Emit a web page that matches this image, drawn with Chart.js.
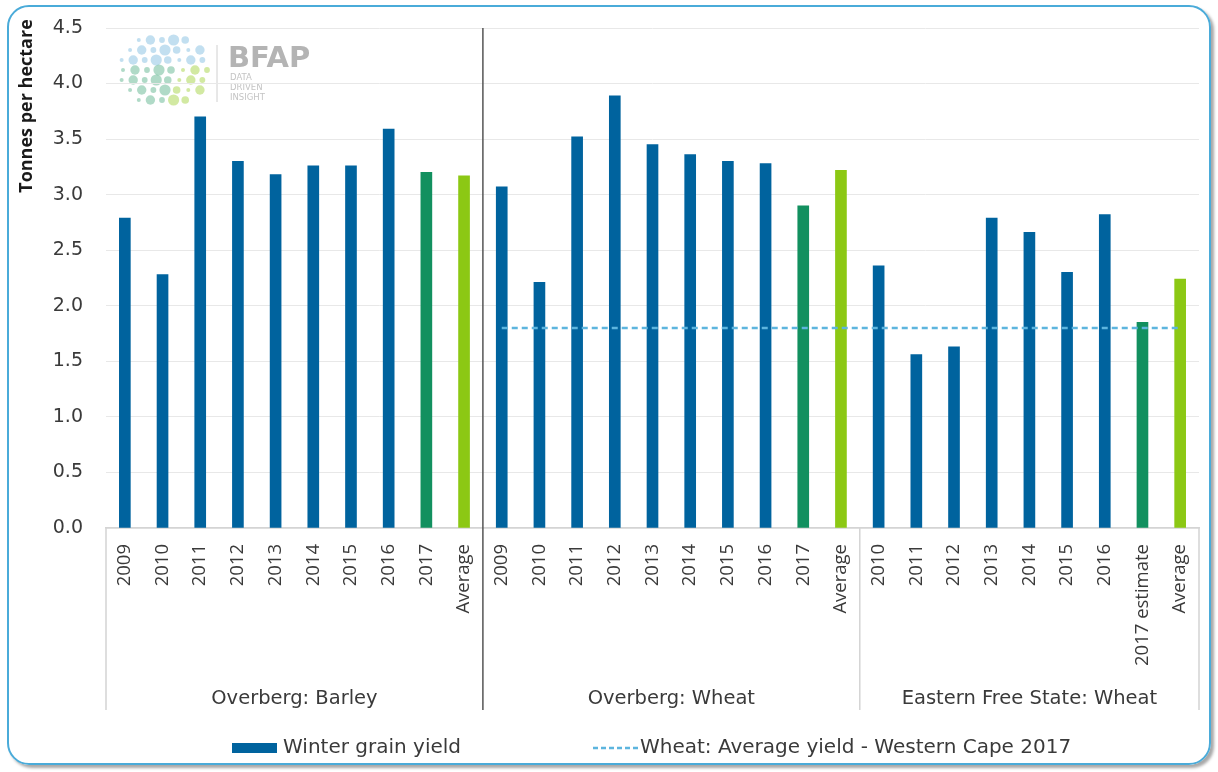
<!DOCTYPE html>
<html>
<head>
<meta charset="utf-8">
<script src="https://cdn.jsdelivr.net/npm/chart.js@4.4.1/dist/chart.umd.min.js"></script>
<style>
    body { margin: 0; background: #ffffff; }
    #wrap { position: relative; width: 1218px; height: 772px; overflow: hidden; }
    #frame {
        position: absolute; left: 7px; top: 5px; width: 1200px; height: 756px;
        border: 2.5px solid #4aabd9; border-radius: 22px;
        box-shadow: 3px 3px 3px #a8a8a8;
    }
    #chart { position: absolute; left: 0; top: 0; }
</style>
</head>
<body>
<div id="wrap">
    <div id="frame"></div>
    <canvas id="chart" width="1218" height="772"></canvas>
</div>
<script>
// =====================================
// DATA
// =====================================
const groupNames = ["Overberg: Barley", "Overberg: Wheat", "Eastern Free State: Wheat"];

const barleyLabels = ["2009", "2010", "2011", "2012", "2013", "2014", "2015", "2016", "2017", "Average"];
const barleyYield  = [2.79, 2.28, 3.70, 3.30, 3.18, 3.26, 3.26, 3.59, 3.20, 3.17];

const wheatLabels = ["2009", "2010", "2011", "2012", "2013", "2014", "2015", "2016", "2017", "Average"];
const wheatYield  = [3.07, 2.21, 3.52, 3.89, 3.45, 3.36, 3.30, 3.28, 2.90, 3.22];

const efsLabels = ["2010", "2011", "2012", "2013", "2014", "2015", "2016", "2017 estimate", "Average"];
const efsYield  = [2.36, 1.56, 1.63, 2.79, 2.66, 2.30, 2.82, 1.85, 2.24];

// Western Cape 2017 average wheat yield (dashed line over the two wheat groups)
const westernCapeAvg = 1.80;

const yTicks = [0, 0.5, 1.0, 1.5, 2.0, 2.5, 3.0, 3.5, 4.0, 4.5];

// =====================================
// BUILD CHART INPUT
// =====================================
const labels = [...barleyLabels, ...wheatLabels, ...efsLabels];
const yields = [...barleyYield, ...wheatYield, ...efsYield];
const groupSizes = [barleyLabels.length, wheatLabels.length, efsLabels.length];

const lineData = labels.map((l, i) => i < barleyLabels.length ? null : westernCapeAvg);

const BLUE = "#00639e";
const DARK_GREEN = "#12905f";
const LIGHT_GREEN = "#8cc814";

const barColors = labels.map(l => {
    if (l === "Average") return LIGHT_GREEN;
    if (l.indexOf("2017") === 0) return DARK_GREEN;
    return BLUE;
});

const WIDE = "'DejaVu Sans', sans-serif";      // horizontal texts (stretched look)
const NARROW = "'Open Sans', sans-serif";      // rotated texts
const TEXT = "#3a3a3a";

// =====================================
// EXTRAS: logo, axis title, group labels, separators, legend
// =====================================
const extras = {
    id: "extras",
    beforeDraw(chart) {
        const c = chart.ctx;
        c.save();
        // logo dots, roughly a ball: blue on top, green below
        for (let row = 0; row < 7; row++) {
            const y = 40 + row * 10;
            const half = Math.sqrt(1 - Math.pow((row - 3) / 3.6, 2)) * 42;
            const n = Math.round(half / 6);
            for (let k = 0; k <= n; k++) {
                const x = 162 - half + (2 * half) * k / n + (row % 2) * 3;
                const r = 2 + ((k * 3 + row * 5) % 5) * 0.9;
                c.beginPath();
                c.arc(x, y, r, 0, Math.PI * 2);
                if (row < 3) c.fillStyle = "rgba(120,185,222,0.45)";
                else c.fillStyle = k > n * 0.6 ? "rgba(165,212,70,0.5)" : "rgba(80,172,130,0.45)";
                c.fill();
            }
        }
        c.strokeStyle = "#d0d0d0";
        c.lineWidth = 1;
        c.beginPath(); c.moveTo(217, 45); c.lineTo(217, 102); c.stroke();
        c.fillStyle = "#b4b4b4";
        c.font = "bold 29px " + WIDE;
        c.textBaseline = "alphabetic";
        c.fillText("BFAP", 228, 67);
        c.font = "8.5px " + WIDE;
        c.fillStyle = "#c4c4c4";
        c.fillText("DATA", 230, 80);
        c.fillText("DRIVEN", 230, 90);
        c.fillText("INSIGHT", 230, 100);
        c.restore();
    },
    afterDraw(chart) {
        const c = chart.ctx;
        const x = chart.scales.x;
        const area = chart.chartArea;
        const catW = (x.right - x.left) / labels.length;
        const bottom = 710;
        c.save();

        // y axis title
        c.translate(27, 106);
        c.rotate(-Math.PI / 2);
        c.font = "bold 18px " + NARROW;
        c.fillStyle = "#1a1a1a";
        c.textAlign = "center";
        c.textBaseline = "middle";
        c.fillText("Tonnes per hectare", 0, 0);
        c.setTransform(1, 0, 0, 1, 0, 0);

        // outer lines of category table
        c.strokeStyle = "#d4d4d4";
        c.lineWidth = 1.5;
        c.beginPath();
        c.moveTo(x.left, area.bottom); c.lineTo(x.left, bottom);
        c.moveTo(x.right, area.bottom); c.lineTo(x.right, bottom);
        c.stroke();

        // group separators + names
        let start = 0;
        groupSizes.forEach((size, g) => {
            const x0 = x.left + start * catW;
            const x1 = x.left + (start + size) * catW;
            if (g === 1) {
                c.strokeStyle = "#555555";
                c.lineWidth = 1.5;
                c.beginPath(); c.moveTo(x0, area.top); c.lineTo(x0, bottom); c.stroke();
            } else if (g === 2) {
                c.strokeStyle = "#d4d4d4";
                c.lineWidth = 1.5;
                c.beginPath(); c.moveTo(x0, area.bottom); c.lineTo(x0, bottom); c.stroke();
            }
            c.font = "19.5px " + WIDE;
            c.fillStyle = TEXT;
            c.textAlign = "center";
            c.textBaseline = "middle";
            c.fillText(groupNames[g], (x0 + x1) / 2, 699);
            start += size;
        });

        // legend
        const ds0 = chart.data.datasets[1];
        const ds1 = chart.data.datasets[0];
        c.fillStyle = BLUE;
        c.fillRect(232, 743, 45, 10);
        c.font = "20px " + WIDE;
        c.fillStyle = TEXT;
        c.textAlign = "left";
        c.textBaseline = "middle";
        c.fillText(ds0.label, 283, 748);
        c.strokeStyle = ds1.borderColor;
        c.lineWidth = 2.5;
        c.setLineDash([5, 3]);
        c.beginPath(); c.moveTo(593, 748); c.lineTo(638, 748); c.stroke();
        c.setLineDash([]);
        c.fillText(ds1.label, 640, 748);
        c.restore();
    }
};

// =====================================
// CHART
// =====================================
const ctx = document.getElementById("chart");
new Chart(ctx, {
    type: "bar",
    data: {
        labels: labels,
        datasets: [
            {
                type: "line",
                label: "Wheat: Average yield - Western Cape 2017",
                data: lineData,
                borderColor: "#5db5de",
                borderWidth: 2.5,
                borderDash: [6, 4],
                pointRadius: 0,
                fill: false,
                order: 0
            },
            {
                label: "Winter grain yield",
                data: yields,
                backgroundColor: barColors,
                barThickness: 11,
                order: 1
            }
        ]
    },
    options: {
        responsive: false,
        animation: false,
        layout: { padding: { top: 28, right: 19, bottom: 62, left: 0 } },
        plugins: {
            legend: { display: false },
            tooltip: { enabled: false }
        },
        scales: {
            x: {
                grid: { display: false },
                border: { color: "#d4d4d4", width: 1.5 },
                ticks: {
                    autoSkip: false,
                    minRotation: 90,
                    maxRotation: 90,
                    padding: 8,
                    color: TEXT,
                    font: { family: NARROW, size: 18.5 }
                },
                afterFit: s => { s.height = 182; }
            },
            y: {
                min: 0,
                max: 4.5,
                afterBuildTicks: s => { s.ticks = yTicks.map(v => ({ value: v })); },
                ticks: {
                    padding: 0,
                    color: TEXT,
                    font: { family: WIDE, size: 19 },
                    callback: v => v.toFixed(1)
                },
                grid: { color: "#e8e8e8", drawTicks: true, tickLength: 23, tickColor: "rgba(0,0,0,0)" },
                border: { display: false },
                afterFit: s => { s.width = 106; }
            }
        }
    },
    plugins: [extras]
});
</script>
</body>
</html>
